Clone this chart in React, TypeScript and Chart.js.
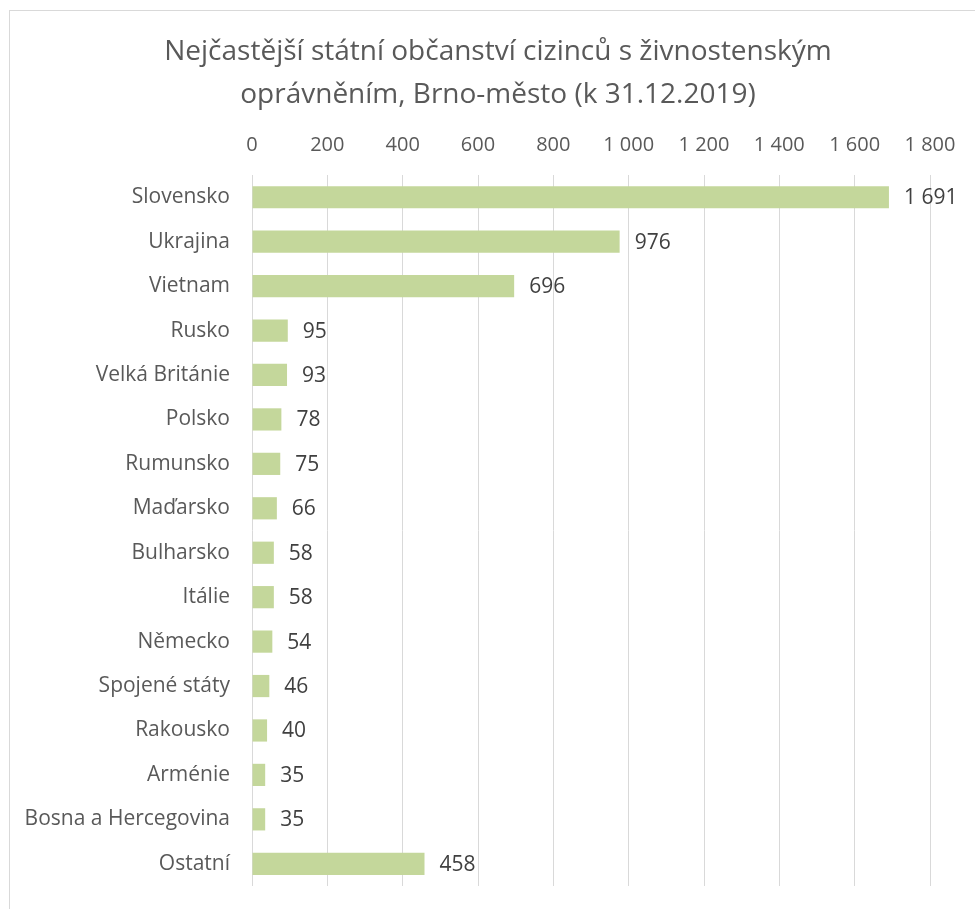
import React, { useEffect, useRef } from "react";
import { Chart, registerables } from "chart.js";

Chart.register(...registerables);

const categories = [
  "Slovensko",
  "Ukrajina",
  "Vietnam",
  "Rusko",
  "Velká Británie",
  "Polsko",
  "Rumunsko",
  "Maďarsko",
  "Bulharsko",
  "Itálie",
  "Německo",
  "Spojené státy",
  "Rakousko",
  "Arménie",
  "Bosna a Hercegovina",
  "Ostatní",
];

const values = [1691, 976, 696, 95, 93, 78, 75, 66, 58, 58, 54, 46, 40, 35, 35, 458];

const titleLines = [
  "Nejčastější státní občanství cizinců s živnostenským",
  "oprávněním, Brno-město (k 31.12.2019)",
];

const axisMin = 0;
const axisMax = 1800;
const axisStep = 200;

const FONT = "'Open Sans', sans-serif";

const fmt = (v: number) => String(v).replace(/\B(?=(\d{3})+(?!\d))/g, " ");

const dataLabels = {
  id: "dataLabels",
  afterDatasetsDraw(chart: any) {
    const ctx = chart.ctx;
    const meta = chart.getDatasetMeta(0);
    ctx.save();
    ctx.font = `21px ${FONT}`;
    ctx.fillStyle = "#404040";
    ctx.textAlign = "left";
    ctx.textBaseline = "middle";
    meta.data.forEach((bar: any, i: number) => {
      ctx.fillText(fmt(values[i]), bar.x + 15, bar.y + 1);
    });
    ctx.restore();
  },
};

// The title in the original is centred on the whole chart frame, not on the plot.
const titleShift = {
  id: "titleShift",
  afterLayout(chart: any) {
    if (chart.titleBlock) {
      chart.titleBlock.left = 66;
    }
  },
};

export default function App() {
  const ref = useRef<HTMLCanvasElement | null>(null);

  useEffect(() => {
    if (!ref.current) return;
    const chart = new Chart(ref.current, {
      type: "bar",
      data: {
        labels: categories,
        datasets: [
          {
            data: values,
            backgroundColor: "#c4d79b",
            borderWidth: 0,
            barPercentage: 0.5,
            categoryPercentage: 1,
          },
        ],
      },
      plugins: [dataLabels, titleShift],
      options: {
        indexAxis: "y",
        animation: false,
        responsive: false,
        devicePixelRatio: 1,
        layout: { padding: { left: 0, right: 45, top: 0, bottom: 23 } },
        plugins: {
          legend: { display: false },
          tooltip: { enabled: false },
          title: {
            display: true,
            text: titleLines,
            color: "#595959",
            font: { family: FONT, size: 28, weight: "normal", lineHeight: 1.536 },
            padding: { top: 31, bottom: 0 },
          },
        },
        scales: {
          x: {
            position: "top",
            min: axisMin,
            max: axisMax,
            grid: { color: "#d9d9d9", lineWidth: 1, drawTicks: false },
            border: { display: false },
            ticks: {
              stepSize: axisStep,
              color: "#595959",
              font: { family: FONT, size: 20 },
              padding: 18,
              callback: (v: any) => fmt(Number(v)),
            },
            afterFit: (s: any) => {
              s.height = 58;
            },
          },
          y: {
            grid: { display: false, drawTicks: false },
            border: { display: false },
            ticks: {
              color: "#595959",
              font: { family: FONT, size: 21 },
              padding: 22,
            },
            afterFit: (s: any) => {
              s.width = 252;
              s.paddingTop = 0;
              s.paddingBottom = 0;
            },
          },
        },
      },
    });
    return () => chart.destroy();
  }, []);

  return (
    <div style={{ position: "fixed", left: 0, top: 0, width: 975, height: 909, overflow: "hidden", background: "#fff" }}>
      <div
        style={{
          position: "absolute",
          left: 9,
          top: 10,
          width: 1000,
          height: 1000,
          border: "1px solid #d9d9d9",
          boxSizing: "border-box",
        }}
      />
      <canvas ref={ref} width={975} height={909} style={{ position: "absolute", left: 0, top: 0 }} />
    </div>
  );
}
